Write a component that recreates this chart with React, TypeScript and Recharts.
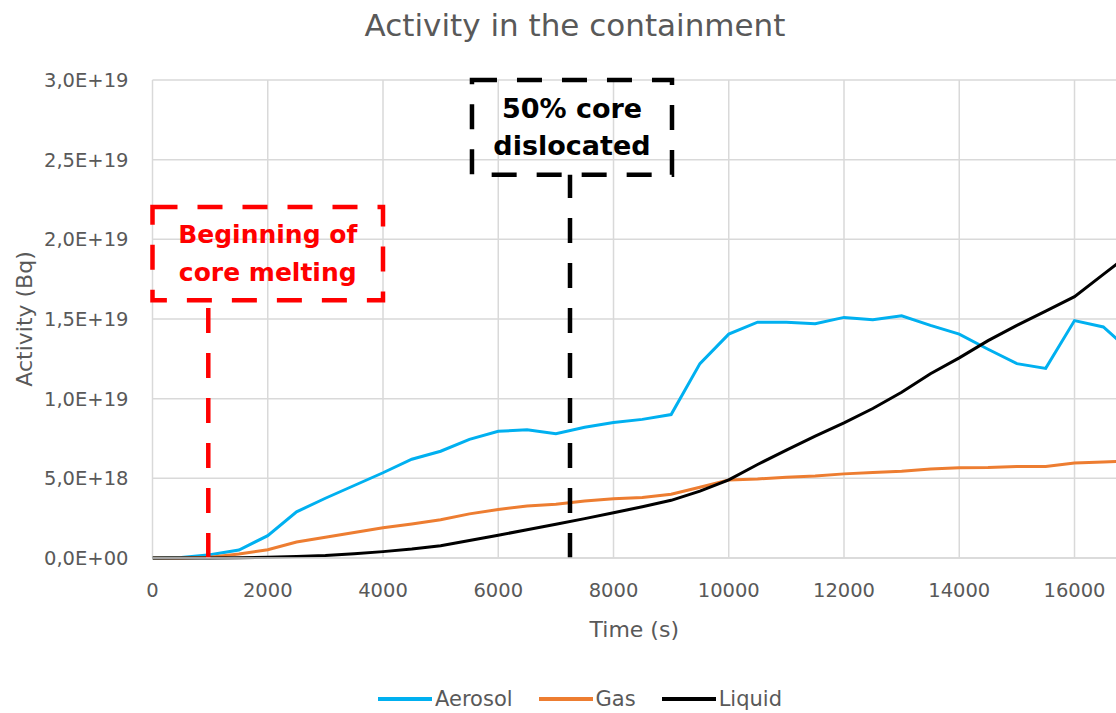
import React from 'react';
import {
  LineChart,
  Line,
  XAxis,
  YAxis,
  CartesianGrid,
  ReferenceArea,
  ReferenceLine,
  Legend,
} from 'recharts';

// Time (s)
const TIME = [
  0, 500, 1000, 1500, 2000, 2500, 3000, 3500, 4000, 4500, 5000, 5500, 6000, 6500, 7000, 7500,
  8000, 8500, 9000, 9500, 10000, 10500, 11000, 11500, 12000, 12500, 13000, 13500, 14000, 14500,
  15000, 15500, 16000, 16500, 17000,
];
// Activity in units of 1E+18 Bq
const AEROSOL = [
  0, 0.03, 0.2, 0.5, 1.4, 2.9, 3.75, 4.55, 5.35, 6.2, 6.7, 7.45, 7.95, 8.05, 7.8, 8.2, 8.5, 8.7,
  9.0, 12.2, 14.05, 14.8, 14.8, 14.7, 15.1, 14.95, 15.2, 14.6, 14.05, 13.1, 12.2, 11.9, 14.9, 14.5,
  12.9,
];
const GAS = [
  0, 0, 0.05, 0.25, 0.52, 1.0, 1.3, 1.6, 1.9, 2.14, 2.4, 2.77, 3.04, 3.27, 3.37, 3.58, 3.72, 3.8,
  4.0, 4.44, 4.9, 4.96, 5.07, 5.15, 5.28, 5.37, 5.45, 5.59, 5.66, 5.68, 5.74, 5.74, 5.96, 6.03, 6.1,
];
const LIQUID = [
  0, 0, 0, 0.02, 0.05, 0.1, 0.16, 0.26, 0.4, 0.56, 0.77, 1.1, 1.43, 1.77, 2.12, 2.47, 2.84, 3.22,
  3.62, 4.2, 4.9, 5.87, 6.77, 7.65, 8.48, 9.38, 10.4, 11.56, 12.56, 13.64, 14.6, 15.5, 16.4, 17.8,
  19.2,
];

const SERIES_NAMES = ['Aerosol', 'Gas', 'Liquid'];
const SERIES_KEYS = ['aerosol', 'gas', 'liquid'];
const SERIES_COLORS = ['#00B0F0', '#ED7D31', '#000000'];

const X_TICKS = [0, 2000, 4000, 6000, 8000, 10000, 12000, 14000, 16000];
const X_MAX = 16720;
const Y_TICKS = [0, 5, 10, 15, 20, 25, 30];

const TITLE = 'Activity in the containment';
const X_TITLE = 'Time (s)';
const Y_TITLE = 'Activity (Bq)';

const MELT_TIME = 968;
const MELT_BOX = { x1: 0, x2: 4000, y1: 16.17, y2: 22.03 };
const MELT_TEXT = ['Beginning of', 'core melting'];

const DISLOC_TIME = 7245;
const DISLOC_BOX = { x1: 5544, x2: 9015, y1: 24.06, y2: 30 };
const DISLOC_TEXT = ['50% core', 'dislocated'];

const data = TIME.map((t, i) => ({
  t,
  aerosol: AEROSOL[i],
  gas: GAS[i],
  liquid: LIQUID[i],
}));

const FONT = '"DejaVu Sans", sans-serif';
const TEXT_COLOR = '#595959';

function formatY(v: number) {
  if (v === 0) return '0,0E+00';
  const e = Math.floor(Math.log10(v) + 1e-9);
  const mant = v / Math.pow(10, e);
  const exp = 18 + e;
  return `${mant.toFixed(1).replace('.', ',')}E+${String(exp).padStart(2, '0')}`;
}

function boxLabel(lines: string[], color: string, size: number, spacing: number) {
  return (props: any) => {
    const vb = props.viewBox || {};
    const cx = vb.x + vb.width / 2;
    const cy = vb.y + vb.height / 2;
    return (
      <g>
        {lines.map((l, i) => (
          <text
            key={i}
            x={cx}
            y={cy + (i - (lines.length - 1) / 2) * spacing}
            textAnchor="middle"
            dominantBaseline="central"
            fill={color}
            fontFamily={FONT}
            fontWeight="bold"
            fontSize={size}
          >
            {l}
          </text>
        ))}
      </g>
    );
  };
}

function LegendContent() {
  return (
    <div
      style={{
        display: 'flex',
        justifyContent: 'center',
        alignItems: 'center',
        height: 40,
        paddingTop: 12,
        boxSizing: 'border-box',
        fontFamily: FONT,
        fontSize: 21,
        color: TEXT_COLOR,
      }}
    >
      {SERIES_NAMES.map((n, i) => (
        <div key={n} style={{ display: 'flex', alignItems: 'center', marginRight: i < SERIES_NAMES.length - 1 ? 26 : 0 }}>
          <div style={{ width: 54, height: 4, background: SERIES_COLORS[i], marginRight: 3 }} />
          <span style={{ lineHeight: '24px' }}>{n}</span>
        </div>
      ))}
    </div>
  );
}

export default function App() {
  return (
    <div
      style={{
        position: 'absolute',
        left: 0,
        top: 0,
        width: 1116,
        height: 713,
        overflow: 'hidden',
        background: '#fff',
      }}
    >
      <div
        style={{
          position: 'absolute',
          left: 0,
          width: 1150,
          top: 10,
          height: 31,
          lineHeight: '31px',
          textAlign: 'center',
          fontFamily: FONT,
          fontSize: 31,
          color: TEXT_COLOR,
          zIndex: 2,
        }}
      >
        {TITLE}
      </div>
      <LineChart
        width={1116}
        height={713}
        data={data}
        margin={{ top: 80, right: 0, bottom: 0, left: 0 }}
      >
        <CartesianGrid stroke="#D9D9D9" strokeWidth={1.5} horizontalValues={Y_TICKS} verticalValues={X_TICKS} />
        <XAxis
          dataKey="t"
          type="number"
          domain={[0, X_MAX]}
          allowDataOverflow
          ticks={X_TICKS}
          interval={0}
          height={115}
          tickLine={false}
          tickSize={0}
          tickMargin={25}
          axisLine={{ stroke: '#D9D9D9', strokeWidth: 1.5 }}
          tick={{ fill: TEXT_COLOR, fontSize: 19.5, fontFamily: FONT }}
          label={(props: any) => {
            const vb = props.viewBox || {};
            return (
              <text
                x={vb.x + vb.width / 2}
                y={vb.y + 79}
                textAnchor="middle"
                fill={TEXT_COLOR}
                fontFamily={FONT}
                fontSize={22}
              >
                {X_TITLE}
              </text>
            );
          }}
        />
        <YAxis
          type="number"
          domain={[0, 30]}
          ticks={Y_TICKS}
          interval={0}
          width={152.5}
          tickLine={false}
          axisLine={false}
          tickSize={0}
          tickMargin={24}
          tickFormatter={formatY}
          tick={{ fill: TEXT_COLOR, fontSize: 19.5, fontFamily: FONT }}
          label={(props: any) => {
            const vb = props.viewBox || {};
            const cy = vb.y + vb.height / 2;
            return (
              <text
                x={31.5}
                y={cy}
                transform={`rotate(-90, 31.5, ${cy})`}
                textAnchor="middle"
                fill={TEXT_COLOR}
                fontFamily={FONT}
                fontSize={22}
              >
                {Y_TITLE}
              </text>
            );
          }}
        />
        {SERIES_KEYS.map((k, i) => (
          <Line
            key={k}
            dataKey={k}
            name={SERIES_NAMES[i]}
            type="linear"
            stroke={SERIES_COLORS[i]}
            strokeWidth={3}
            dot={false}
            activeDot={false}
            isAnimationActive={false}
          />
        ))}
        <ReferenceArea
          x1={MELT_BOX.x1}
          x2={MELT_BOX.x2}
          y1={MELT_BOX.y1}
          y2={MELT_BOX.y2}
          fill="none"
          fillOpacity={0}
          stroke="#FF0000"
          strokeWidth={4.5}
          strokeDasharray="25 20"
          label={boxLabel(MELT_TEXT, '#FF0000', 25, 38)}
        />
        <ReferenceArea
          x1={DISLOC_BOX.x1}
          x2={DISLOC_BOX.x2}
          y1={DISLOC_BOX.y1}
          y2={DISLOC_BOX.y2}
          fill="none"
          fillOpacity={0}
          stroke="#000000"
          strokeWidth={4.5}
          strokeDasharray="25 20"
          label={boxLabel(DISLOC_TEXT, '#000000', 27, 37)}
        />
        <ReferenceLine
          segment={[
            { x: MELT_TIME, y: 0 },
            { x: MELT_TIME, y: MELT_BOX.y1 },
          ]}
          stroke="#FF0000"
          strokeWidth={4.5}
          strokeDasharray="25 20"
        />
        <ReferenceLine
          segment={[
            { x: DISLOC_TIME, y: 0 },
            { x: DISLOC_TIME, y: DISLOC_BOX.y1 },
          ]}
          stroke="#000000"
          strokeWidth={4.5}
          strokeDasharray="25 20"
        />
        <Legend
          verticalAlign="bottom"
          height={40}
          content={() => <LegendContent />}
          wrapperStyle={{ left: 0, width: 1160 }}
        />
      </LineChart>
    </div>
  );
}
